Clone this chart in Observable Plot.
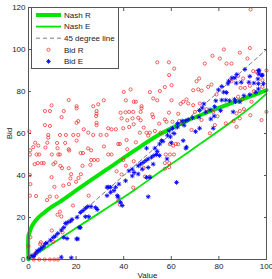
<!DOCTYPE html>
<html>
<head>
<meta charset="utf-8">
<script src="https://cdn.jsdelivr.net/npm/d3@7"></script>
<script src="https://cdn.jsdelivr.net/npm/@observablehq/plot@0.6"></script>
<style>
  body { margin: 0; background: #fff; }
  #chart { position: relative; width: 272px; height: 279px; overflow: hidden;
           font-family: "Liberation Sans", Arial, sans-serif; }
  #legend { position: absolute; left: 31px; top: 7px; }
</style>
</head>
<body>
<div id="chart"></div>
<script>
// Axis ticks
const xTicks = [0, 20, 40, 60, 80, 100];
const yTicks = [0, 20, 40, 60, 80, 100, 120];

// Equilibrium bid functions
const nashRValue = [0, 0, 0.5, 1, 2, 4, 6, 9, 13, 20, 27, 33, 44, 55, 66, 75, 83, 92, 100];
const nashRBid   = [0, 11.5, 13, 14.8, 17, 19.8, 21.8, 24.5, 27.3, 32.9, 38.4, 43, 51.5, 59.5, 65.8, 70, 73.5, 77.2, 80.6];
const nashEValue = [0, 2, 5, 13, 20, 33, 45, 55, 67, 74, 87, 95, 100];
const nashEBid   = [0, 1.5, 3.8, 9.8, 15, 24.5, 33.5, 41.5, 51, 56.5, 67, 74, 79];

// Reference diagonal (bid = value)
const diagonal = [0, 100];

// Observed bids, [value, bid]
const bidR = [
  [2.0,53.5],[4.1,54.2],[2.8,55.6],[0.7,52],[7.1,53.3],[7.9,55.6],[8.3,58],[12.2,53],[12,55.5],[15.4,55.5],
  [16.9,52.5],[20.2,56.6],[21.9,50.7],[22.9,50.7],[25,52.9],[26.3,52],[31.7,53.8],[0.6,50],[3.4,50],[4.5,50],
  [9.8,50],[12.5,50],[13.2,50],[17.1,51.9],[2.6,45.4],[3.9,45.9],[5.5,45.9],[6.4,45.9],[10.5,45.4],[11.3,46.2],
  [13.4,44.6],[14.1,43.5],[16.9,43.5],[22.7,44.6],[26,45.1],[26.3,47.4],[27.6,47.4],[29.1,47.4],[17.9,40.6],[17.6,38.6],
  [17,35.9],[20,37],[21,38.8],[22,40.6],[0.6,40.2],[9.7,39.2],[14.6,35.2],[0.8,35.9],[0.6,30.4],[3.2,30.2],
  [7.8,28.3],[9,30],[10.9,34.6],[11.8,29.9],[25.3,30.4],[18.7,25.7],[13.2,22.8],[13.8,20.5],[12.2,21.3],[14.3,12.9],
  [0.8,10.6],[0,6.4],[4.9,7.4],[5.2,8.2],[9.8,13.8],[10.4,8.4],[3.1,3],[2.2,0],[4.5,0],[6.8,0],
  [9,0],[10.8,0],[12.4,0],
  [16.9,75.9],[9.7,73.4],[6.9,70.7],[9,70.7],[20.2,73],[20.2,72],[14.8,70.7],[13.9,67.8],[29.3,73.9],[27.2,73],
  [28.6,70.7],[28.6,69.4],[28.4,68.3],[31.6,75.8],[20.9,65.9],[20.2,65.1],[6.9,64],[9,63.6],[28.6,65.1],[28.6,64],
  [23.2,62],[25.1,60.4],[0.3,60.9],[8.3,59.3],[13.2,59.3],[15.7,59.3],[18.8,59.3],[20.9,59.3],[27.2,59.3],[30.3,59.3],
  [32.8,59.3],
  [54.1,93.9],[59,93.9],[61.2,90.9],[59.1,87.8],[60.1,83],[57.3,82.1],[55.2,80.2],[51,79.7],[40,79.8],[42.9,81],
  [40.9,75.8],[44.2,75.1],[45.1,75.1],[47.5,73],[52.4,76.7],[54.1,75.8],[60.1,75.8],[63.9,74.1],[65,75.1],[38.7,69.9],
  [40.8,70.1],[42.3,70.3],[44,70.3],[47.5,72],[47.1,70.3],[39.1,67.2],[41.5,66.3],[43.7,67.2],[46.1,67.5],[47.1,66.3],
  [52,69.1],[52.4,67.8],[59,69.9],[54.9,64.7],[57.3,66.7],[58,65.6],[60.5,65.6],[62.9,69.4],[63.3,65.9],[63.9,64.7],
  [33.5,62.5],[34.9,62],[36.7,62],[39.8,62.5],[42.3,63.1],[44.2,64.4],[48.4,62.8],[49.6,60.4],[51,60.4],[46.8,60.4],
  [53.1,61.2],[55.5,60.4],
  [93.3,119.1],[93,100.7],[82.1,100],[88.8,98.5],[77.3,97],[74.1,93.3],[80.4,95.7],[83.2,93.3],[85.3,93.3],[92,95.7],
  [70.6,84.9],[69.2,80.6],[71.3,81],[72.7,80.4],[75.5,82.2],[76.9,83.3],[79,78.6],[84.6,85.4],[85.3,84.9],[88.1,87.4],
  [90.2,86.2],[94.4,89.7],[95.8,89.3],[96.5,88.6],[98.3,85.4],[93,82.7],[90.9,81.7],[89.1,81.7],[98.3,82.2],[88.1,77.5],
  [89.9,76.4],[93.7,75.1],[66.4,76.2],[67.1,74.3],[69.2,73.5],[72,74.3],[74.8,71.6],[77.6,70.3],[87.4,69.6],[88.8,70.7],
  [90.5,71.6],[100,70.3],[97.9,66.4],[88.8,67.2],[87.4,63.2],[82.9,64.8],[78.3,64],[72.7,66.4],[68.5,61.7],[76.2,60.1],
  [71.7,86.2],[100,90],[94.7,80.1],[86.2,65.9],[93.2,68.7],[79.4,68.2],[69.9,70.3],
  [37.7,55],[38.4,55],[41.2,56.9],[45.1,55.8],[50.3,59],[33.5,50],[34.9,50],[39.8,47.4],[40.9,44.7],[37,42],
  [39.1,40.5],[44.2,46.8],[48.4,43.6],[44,34.2],[48.9,39.5],[51,39.5],[37.7,28.1],[38.4,26.1],[57.7,50],[59.4,50],
  [61.1,50],[57.3,45.9],[59.1,45.9],[57.3,43.2],[59.1,44],[60.8,54.2],[61.9,55],[59.4,54.9],[62.9,54.9],[41.5,52.5]
];

const bidE = [
  [0.1,0.8],[1.5,1.9],[2.2,1.4],[2.9,2.7],[3.6,4],[4.3,4.3],[5,5],[5.7,5.6],[6.4,6.3],[7.1,7.6],
  [7.8,7.9],[9.2,9.2],[10.4,10.5],[11.3,11.2],[12.3,12.4],[13.8,14],[14.8,15.2],[15.5,17.2],[16.5,17.7],[17.6,18.3],
  [18.3,19.1],[14.8,10.5],[16.2,10],[20.2,9.8],[20.7,9.8],[21.3,15.2],[21.8,15.2],[20.4,20.1],[21.8,22.4],[22.9,23.3],
  [23.9,24.4],[24.9,25.2],[26.3,25.2],[28.2,24.7],[28.9,23.8],[23.9,20.4],[25.3,20.4],[13.8,1.1],[18,0.8],
  [33,30.4],[34.5,32],[35.9,32.8],[36.6,34.4],[38,35.9],[33,34.4],[34.5,34.4],[37.3,30.4],[38.7,27.2],[39.4,25.7],
  [40.8,37.5],[42.2,42.2],[43.6,43],[44.4,41.4],[43.6,39.8],[33.5,34.5],[37.7,29.7],
  [46.1,44.6],[47.1,45.4],[48.2,46.2],[49.3,47.1],[50.3,47.9],[51.7,48.7],[52.7,49.5],[53.8,50],[55,49.5],[50.3,43.8],
  [52.4,45.4],[47.8,43],[46.1,40.7],[49.6,39.1],[51,39.1],[49.6,53],[53.1,53],[54.1,51.5],[55.1,55],[56.5,56.3],
  [58.2,47.9],[60,55.6],[66.1,53],[62.2,36.7],[50.3,29.9],[55.9,56.6],[65,56.6],[66.4,53.5],
  [90.9,90.5],[87.5,88.1],[85.5,86.5],[84.1,84.9],[96.6,89.9],[96.9,88.3],[98,87.7],[93,87.2],[96.4,86],[96.6,83.7],
  [94.7,84],[92.6,84.4],[89.4,84.4],[87.3,84],[83.8,83.7],[81.2,82.4],[79.8,80.8],[82,79.7],[86.6,76.3],[84.5,75.6],
  [86.9,75.1],[82.9,75.9],[81.2,75.9],[78.7,75.6],[78.2,72.8],[76.3,71.3],[74.5,70.2],[73.7,74.1],[73,72.2],[71.9,71],
  [71.6,67.8],[68.9,67.5],[67.1,66.6],[66,66],[64.6,66],[65.4,63.9],[62.6,63.1],[62.6,64.7],[60.5,62.4],[59.1,61.3],
  [58.4,59.2],[61.2,60],[59.6,58.4],[71.9,62.5],[70.2,60.9],[76.6,66.9],[78,68.3],[80.7,70.9],[90.5,78],[93,78.5],
  [95.5,79.6],[96.6,81.2],[98.7,83.7],[96.9,90.1],[98.3,87.8],[86.7,86.5],[83.2,79.5],[88.8,75.1],[77.6,62.5],[86,70.3]
];

const nashR = nashRValue.map((v, i) => ({value: v, bid: nashRBid[i]}));
const nashE = nashEValue.map((v, i) => ({value: v, bid: nashEBid[i]}));

// MATLAB-style asterisk marker: a "+" overlaid with an "x"
const asterisk = {
  draw(context, size) {
    const r = Math.sqrt(size / Math.PI);
    const d = r * Math.SQRT1_2;
    context.moveTo(-r, 0); context.lineTo(r, 0);
    context.moveTo(0, -r); context.lineTo(0, r);
    context.moveTo(-d, -d); context.lineTo(d, d);
    context.moveTo(-d, d); context.lineTo(d, -d);
  }
};

const green = "#00e400";
const red = "#f02020";
const blue = "#0000ff";
const axisGray = "#555";

const plot = Plot.plot({
  width: 272,
  height: 279,
  marginLeft: 28,
  marginRight: 6,
  marginTop: 7,
  marginBottom: 20,
  x: {domain: [0, 100]},
  y: {domain: [0, 120]},
  style: {fontSize: "8px", fontFamily: "'Liberation Sans', Arial, sans-serif", color: "#222", background: "#fff"},
  marks: [
    Plot.line(nashR, {x: "value", y: "bid", stroke: green, strokeWidth: 4, curve: "catmull-rom"}),
    Plot.line(nashE, {x: "value", y: "bid", stroke: green, strokeWidth: 1.8, curve: "catmull-rom"}),
    Plot.line(diagonal, {x: d => d, y: d => d, stroke: "#444", strokeWidth: 0.7, strokeDasharray: "4,3"}),
    Plot.dot(bidR, {x: d => d[0], y: d => d[1], r: 1.6, stroke: red, strokeWidth: 0.7}),
    Plot.dot(bidE, {x: d => d[0], y: d => d[1], r: 2.3, symbol: asterisk, fill: "none", stroke: blue, strokeWidth: 0.9}),
    Plot.frame({stroke: axisGray}),
    // tick labels and axis titles
    Plot.axisX({anchor: "bottom", ticks: xTicks, tickSize: 0, tickPadding: 4, label: "Value", labelAnchor: "center", labelArrow: "none", labelOffset: 18}),
    Plot.axisY({anchor: "left", ticks: yTicks, tickSize: 0, tickPadding: 3, label: "Bid", labelAnchor: "center", labelArrow: "none", labelOffset: 22}),
    // inward tick marks on all four sides
    Plot.axisX({anchor: "bottom", ticks: xTicks, tickSize: -3, tickFormat: () => "", label: null, stroke: axisGray}),
    Plot.axisX({anchor: "top", ticks: xTicks, tickSize: -3, tickFormat: () => "", label: null, stroke: axisGray}),
    Plot.axisY({anchor: "left", ticks: yTicks, tickSize: -3, tickFormat: () => "", label: null, stroke: axisGray}),
    Plot.axisY({anchor: "right", ticks: yTicks, tickSize: -3, tickFormat: () => "", label: null, stroke: axisGray})
  ]
});

const chart = document.getElementById("chart");
chart.appendChild(plot);

// Legend box
const entries = [
  {label: "Nash R", kind: "line", width: 4},
  {label: "Nash E", kind: "line", width: 1.8},
  {label: "45 degree line", kind: "dash"},
  {label: "Bid R", kind: "circle"},
  {label: "Bid E", kind: "star"}
];
const lw = 88, lh = 62, rowGap = 11.6, row0 = 8;
const legend = d3.select(chart).append("svg")
  .attr("id", "legend").attr("width", lw).attr("height", lh)
  .style("font-family", "'Liberation Sans', Arial, sans-serif").style("font-size", "8px");
legend.append("rect").attr("x", 0.5).attr("y", 0.5).attr("width", lw - 1).attr("height", lh - 1)
  .attr("fill", "#fff").attr("stroke", axisGray);
entries.forEach((e, i) => {
  const g = legend.append("g").attr("transform", `translate(0,${row0 + i * rowGap})`);
  if (e.kind === "line") {
    g.append("line").attr("x1", 5).attr("x2", 30).attr("stroke", green).attr("stroke-width", e.width);
  } else if (e.kind === "dash") {
    g.append("line").attr("x1", 5).attr("x2", 30).attr("stroke", "#444").attr("stroke-width", 0.7).attr("stroke-dasharray", "4,3");
  } else if (e.kind === "circle") {
    g.append("circle").attr("cx", 17.5).attr("r", 1.6).attr("fill", "none").attr("stroke", red).attr("stroke-width", 0.7);
  } else {
    const p = d3.path();
    asterisk.draw(p, Math.PI * 2.3 * 2.3);
    g.append("path").attr("transform", "translate(17.5,0)").attr("d", p.toString())
      .attr("fill", "none").attr("stroke", blue).attr("stroke-width", 0.9);
  }
  g.append("text").attr("x", 33).attr("y", 0).attr("dy", "0.35em").attr("fill", "#222").text(e.label);
});
</script>
</body>
</html>
